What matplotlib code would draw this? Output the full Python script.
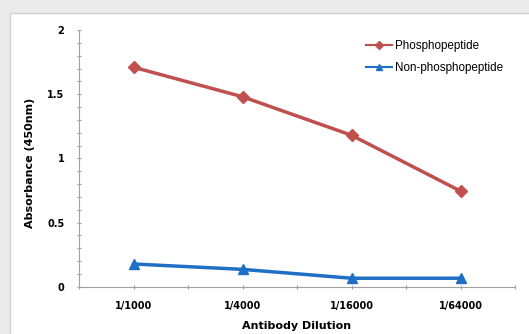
import matplotlib
matplotlib.use("Agg")
import matplotlib.pyplot as plt
from matplotlib.patches import Rectangle
from matplotlib.ticker import MultipleLocator, FixedLocator

categories = ["1/1000", "1/4000", "1/16000", "1/64000"]
phospho = [1.71, 1.48, 1.18, 0.745]
nonphospho = [0.177, 0.135, 0.066, 0.066]

plt.rcParams['font.family'] = ['Liberation Sans', 'DejaVu Sans']
bold_family = ['DejaVu Sans']

fig = plt.figure(figsize=(5.29, 3.34), dpi=100)
fig.patch.set_facecolor('#ebebeb')
bg = fig.add_axes([0, 0, 1, 1], zorder=-5)
bg.set_xlim(0, 1); bg.set_ylim(0, 1); bg.axis('off')
bg.add_patch(Rectangle((10/529, -0.01), 1.0, 1 - 13/334 + 0.01,
                       facecolor='white', edgecolor='#d0d0d0', linewidth=1.0))

ax = fig.add_axes([79/529, 1 - 286.7/334, (515-79)/529, (286.7-30)/334], zorder=2)
ax.set_facecolor('none')
x = list(range(len(categories)))
ax.plot(x, phospho, color='#c0504d', lw=2.5, marker='D', ms=6.5, label='Phosphopeptide')
ax.plot(x, nonphospho, color='#1f6fc6', lw=2.5, marker='^', ms=7.5, label='Non-phosphopeptide')

ax.set_xlim(-0.5, 3.5)
ax.set_ylim(0, 2)
ax.set_xticks(x)
ax.set_xticklabels(categories, fontsize=7, fontweight='bold', family=bold_family)
ax.xaxis.set_minor_locator(FixedLocator([-0.5, 0.5, 1.5, 2.5, 3.5]))
ax.set_yticks([0, 0.5, 1, 1.5, 2])
ax.yaxis.set_minor_locator(MultipleLocator(0.1))
ax.set_yticklabels(['0', '0.5', '1', '1.5', '2'], fontsize=7, fontweight='bold', family=bold_family)
ax.tick_params(axis='both', which='both', direction='inout', color='#a0a0a0', length=3, width=0.8)
ax.tick_params(axis='x', which='major', pad=9)
ax.tick_params(axis='y', which='major', pad=9)
for s in ['top', 'right']:
    ax.spines[s].set_visible(False)
for s in ['left', 'bottom']:
    ax.spines[s].set_color('#a0a0a0')
    ax.spines[s].set_linewidth(0.8)

ax.set_xlabel('Antibody Dilution', fontsize=8, fontweight='bold', family=bold_family, labelpad=7)
ax.set_ylabel('Absorbance (450nm)', fontsize=8, fontweight='bold', family=bold_family)
ax.yaxis.set_label_coords(-0.101, 0.482)

leg = fig.legend(*ax.get_legend_handles_labels(), loc='upper left',
                 bbox_to_anchor=(366/529, 1 - 40/334), frameon=False,
                 fontsize=8.4, handlelength=2.25, handletextpad=0.2, labelspacing=0.85,
                 borderpad=0, borderaxespad=0, markerscale=0.6)
for line in leg.get_lines():
    line.set_linewidth(1.5)

fig.savefig('out.png', dpi=100, facecolor=fig.get_facecolor())
